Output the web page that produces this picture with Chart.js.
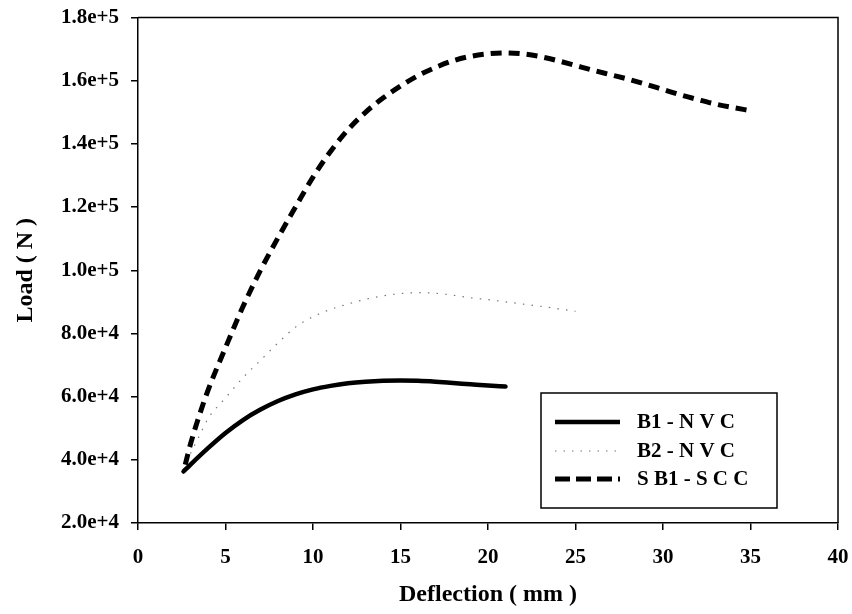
<!DOCTYPE html>
<html>
<head>
<meta charset="utf-8">
<script src="https://cdn.jsdelivr.net/npm/chart.js@4.4.0/dist/chart.umd.min.js"></script>
<style>
  html, body { margin: 0; padding: 0; background: #fff; }
</style>
</head>
<body>
<canvas id="graph" width="852" height="614"></canvas>
<script>
// Series names (legend order)
const seriesNames = ['B1 - N V C', 'B2 - N V C', 'S B1 - S C C'];

// Deflection (mm) / Load (N)
const b1Deflection = [2.6, 3, 4, 5, 6, 7, 8, 9, 10, 11, 12, 13, 14, 15, 16, 17, 18, 19, 20, 21];
const b1Load = [36300, 38500, 43700, 48500, 52600, 55900, 58600, 60700, 62300, 63400, 64200, 64700, 65000, 65100, 65000, 64700, 64300, 63900, 63500, 63200];

const b2Deflection = [3, 3.5, 4, 5, 6, 7, 8, 9, 10, 11, 12, 13, 14, 15, 16, 17, 18, 19, 20, 21, 22, 23, 24, 25];
const b2Load = [42000, 47500, 53000, 59600, 66000, 71500, 77000, 82000, 85300, 87600, 89300, 90800, 91900, 92600, 92900, 92700, 92100, 91300, 90700, 90000, 89300, 88600, 87800, 87000];

const sb1Deflection = [2.7, 3, 3.5, 4, 5, 6, 7, 8, 9, 10, 11, 12, 13, 14, 15, 16, 17, 18, 19, 20, 21, 22, 23, 24, 25, 26, 27, 28, 29, 30, 31, 32, 33, 34, 35];
const sb1Load = [38500, 45000, 54000, 62000, 75500, 88500, 100000, 110300, 120000, 129500, 137600, 144500, 150000, 154500, 158300, 161600, 164200, 166300, 167700, 168500, 168800, 168500, 167600, 166300, 164800, 163300, 161900, 160500, 158900, 157200, 155500, 154000, 152600, 151500, 150500];

// Axis settings
const xMin = 0, xMax = 40, xStep = 5;
const yMin = 20000, yMax = 180000, yStep = 20000;

const toPoints = (xs, ys) => xs.map((x, i) => ({ x: x, y: ys[i] }));

const serif = "'Liberation Serif', 'Times New Roman', serif";
const tickFont = { family: serif, size: 21, weight: 'bold' };
const titleFont = { family: serif, size: 24, weight: 'bold' };

// Frame on top/right + boxed legend inside the plot
const boxLegend = {
  id: 'boxLegend',
  afterDatasetsDraw(chart) {
    const ctx = chart.ctx;
    const a = chart.chartArea;
    ctx.save();
    ctx.strokeStyle = '#000';
    ctx.lineWidth = 1.5;
    ctx.beginPath();
    ctx.moveTo(a.left, a.top);
    ctx.lineTo(a.right, a.top);
    ctx.lineTo(a.right, a.bottom);
    ctx.stroke();

    const bx = 541, by = 393, bw = 236, bh = 115;
    ctx.fillStyle = '#fff';
    ctx.fillRect(bx, by, bw, bh);
    ctx.strokeRect(bx, by, bw, bh);

    const rows = [422, 451, 479];
    const legendDash = [[], [1.5, 7], [15, 6]];
    ctx.font = 'bold 21px ' + serif;
    ctx.textBaseline = 'middle';
    chart.data.datasets.forEach((ds, i) => {
      const y = rows[i];
      ctx.beginPath();
      ctx.setLineDash(legendDash[i]);
      ctx.strokeStyle = ds.borderColor;
      ctx.lineWidth = ds.borderWidth;
      ctx.lineCap = 'butt';
      ctx.moveTo(555, y);
      ctx.lineTo(620, y);
      ctx.stroke();
      ctx.setLineDash([]);
      ctx.fillStyle = '#000';
      ctx.fillText(ds.label, 637, y + 1);
    });
    ctx.restore();
  }
};

const graph = new Chart(document.getElementById('graph').getContext('2d'), {
  type: 'line',
  data: {
    datasets: [
      {
        label: seriesNames[0],
        data: toPoints(b1Deflection, b1Load),
        borderColor: '#000',
        borderWidth: 4.5,
        borderCapStyle: 'round',
        cubicInterpolationMode: 'monotone'
      },
      {
        label: seriesNames[1],
        data: toPoints(b2Deflection, b2Load),
        borderColor: '#777',
        borderWidth: 1.2,
        borderDash: [1.5, 7.2],
        cubicInterpolationMode: 'monotone'
      },
      {
        label: seriesNames[2],
        data: toPoints(sb1Deflection, sb1Load),
        borderColor: '#000',
        borderWidth: 5,
        borderDash: [11, 7],
        borderCapStyle: 'butt',
        cubicInterpolationMode: 'monotone'
      }
    ]
  },
  options: {
    responsive: false,
    animation: false,
    layout: { padding: { top: 17.5, right: 14, left: 0, bottom: 0 } },
    elements: { point: { radius: 0 } },
    plugins: {
      legend: { display: false },
      tooltip: { enabled: false }
    },
    scales: {
      x: {
        type: 'linear',
        min: xMin,
        max: xMax,
        afterFit: (scale) => {
          scale.height = 91;
          scale.paddingLeft = 0;
          scale.paddingRight = 0;
        },
        ticks: { stepSize: xStep, color: '#000', font: tickFont, padding: 15 },
        grid: { drawOnChartArea: false, tickLength: 7, color: '#000', lineWidth: 1.5 },
        border: { color: '#000', width: 1.5 },
        title: { display: true, text: 'Deflection ( mm )', color: '#000', font: titleFont, padding: { top: 0, bottom: 5 } }
      },
      y: {
        type: 'linear',
        min: yMin,
        max: yMax,
        afterFit: (scale) => {
          scale.width = 138;
          scale.paddingTop = 0;
          scale.paddingBottom = 0;
        },
        ticks: {
          stepSize: yStep,
          color: '#000',
          font: tickFont,
          padding: 12,
          callback: (v) => v.toExponential(1)
        },
        grid: { drawOnChartArea: false, tickLength: 7, color: '#000', lineWidth: 1.5 },
        border: { color: '#000', width: 1.5 },
        title: { display: true, text: 'Load ( N )', color: '#000', font: titleFont, padding: { top: 11, bottom: 0 } }
      }
    }
  },
  plugins: [boxLegend]
});
</script>
</body>
</html>
